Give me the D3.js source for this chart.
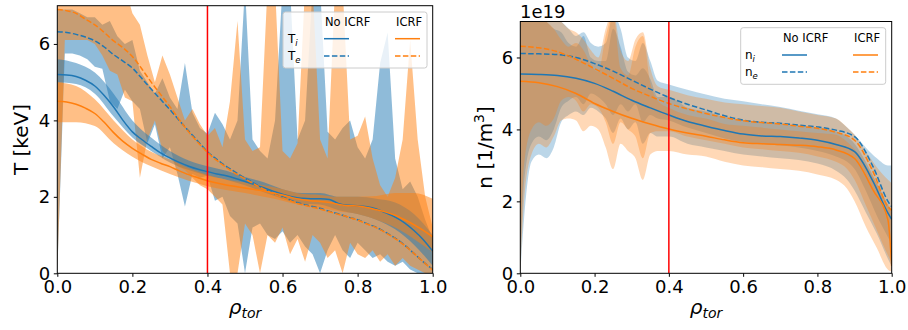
<!DOCTYPE html>
<html>
<head>
<meta charset="utf-8">
<script src="https://cdn.jsdelivr.net/npm/d3@7"></script>
<style>
body { margin: 0; background: #fff; }
svg { font-family: "DejaVu Sans", sans-serif; }
</style>
</head>
<body>
<svg id="chart" width="908" height="330"></svg>
<script>
// ---- data: temperature panel (keV) ----
const rhoLine = [0,0.025,0.05,0.075,0.1,0.125,0.15,0.175,0.2,0.225,0.25,0.275,0.3,0.325,0.35,0.375,0.4,0.425,0.45,0.475,0.5,0.525,0.55,0.575,0.6,0.625,0.65,0.675,0.7,0.725,0.75,0.775,0.8,0.825,0.85,0.875,0.9,0.925,0.95,0.975,1.0];
const tiNoIcrf = [5.20,5.19,5.15,5.05,4.90,4.65,4.35,4.00,3.70,3.50,3.32,3.15,3.02,2.90,2.80,2.72,2.66,2.60,2.55,2.48,2.40,2.32,2.24,2.15,2.07,2.00,1.96,1.95,1.95,1.93,1.82,1.78,1.77,1.74,1.68,1.58,1.47,1.32,1.12,0.88,0.58];
const tiIcrf   = [4.50,4.48,4.42,4.32,4.18,3.95,3.68,3.45,3.27,3.12,2.98,2.88,2.79,2.68,2.58,2.50,2.42,2.36,2.31,2.27,2.23,2.19,2.15,2.10,2.05,1.98,1.93,1.90,1.88,1.85,1.80,1.77,1.76,1.72,1.66,1.60,1.52,1.40,1.27,1.12,0.95];
const teNoIcrf = [6.32,6.30,6.25,6.18,6.08,5.92,5.72,5.55,5.37,5.10,4.82,4.55,4.28,4.00,3.72,3.45,3.18,2.98,2.80,2.64,2.49,2.35,2.22,2.10,2.00,1.90,1.82,1.76,1.70,1.62,1.55,1.47,1.40,1.30,1.20,1.07,0.92,0.74,0.52,0.30,0.10];
const teIcrf   = [6.90,6.87,6.80,6.65,6.50,6.30,6.08,5.90,5.67,5.35,5.00,4.68,4.36,4.02,3.70,3.42,3.16,2.95,2.77,2.61,2.47,2.33,2.20,2.08,1.98,1.88,1.80,1.74,1.68,1.61,1.54,1.47,1.39,1.29,1.19,1.06,0.91,0.73,0.52,0.30,0.08];

const rhoTiBand = [0,0.05,0.1,0.15,0.2,0.25,0.3,0.35,0.4,0.45,0.5,0.55,0.6,0.65,0.7,0.75,0.8,0.85,0.9,0.95,1.0];
const tiNoLo = [5.00,4.95,4.70,4.10,3.55,3.20,2.90,2.70,2.55,2.45,2.30,2.12,1.95,1.82,1.80,1.65,1.55,1.40,1.15,0.75,0.20];
const tiNoHi = [5.60,5.50,5.25,4.70,4.00,3.55,3.20,2.95,2.80,2.68,2.52,2.38,2.20,2.10,2.10,2.00,2.00,1.95,1.85,1.55,1.00];
const tiIcLo = [3.95,3.95,3.85,3.40,3.05,2.80,2.60,2.42,2.28,2.18,2.10,2.00,1.90,1.78,1.72,1.62,1.55,1.40,1.20,0.90,0.55];
const tiIcHi = [5.00,4.90,4.55,4.00,3.50,3.18,2.98,2.75,2.58,2.45,2.38,2.30,2.20,2.08,2.05,2.00,2.00,2.02,2.10,2.10,1.95];

const rhoTeBand = [0,0.02,0.04,0.06,0.08,0.1,0.12,0.14,0.16,0.18,0.2,0.22,0.24,0.26,0.28,0.3,0.32,0.34,0.36,0.38,0.4,0.42,0.44,0.46,0.48,0.5,0.52,0.54,0.56,0.58,0.6,0.62,0.64,0.66,0.68,0.7,0.72,0.74,0.76,0.78,0.8,0.82,0.84,0.86,0.88,0.9,0.92,0.94,0.96,0.98,1.0];
const teNoLo = [0.0,5.75,5.75,5.7,5.6,5.4,5.35,4.5,4.3,4.8,4.5,4.3,3.4,3.9,3.0,3.3,2.6,1.75,2.6,2.5,2.55,1.9,2.0,1.5,1.3,0.0,1.2,1.3,1.0,0.9,1.1,0.8,1.0,0.7,0.5,0.0,0.6,1.0,0.6,0.4,0.8,0.6,0.4,0.5,0.3,0.2,0.3,0.1,0.0,0.0,0.0];
const teNoHi = [6.9,6.9,6.9,6.8,6.7,6.7,6.5,6.6,6.2,6.0,6.1,5.3,5.0,4.7,5.1,4.6,4.3,5.5,4.2,3.8,3.65,4.2,3.9,3.5,4.0,7.5,3.5,3.2,3.0,4.0,7.5,7.5,3.5,4.0,7.5,7.5,3.7,3.5,3.8,4.0,3.3,3.0,3.5,5.5,6.3,3.0,2.2,2.4,2.0,1.4,0.9];
const teIcLo = [0.0,6.1,6.1,6.1,6.1,6.0,5.7,5.3,5.2,4.6,4.5,2.5,3.5,4.0,3.2,3.0,2.8,2.7,2.5,2.3,2.2,2.0,1.8,0.0,0.0,1.3,1.0,0.0,1.0,0.8,1.2,0.5,0.9,0.3,1.0,0.8,0.4,0.6,0.0,0.8,0.5,0.4,0.6,0.3,0.5,0.2,0.4,0.2,0.1,0.0,0.0];
const teIcHi = [7.5,7.5,7.5,7.2,7.5,7.5,7.5,7.5,7.5,7.5,6.8,6.5,5.7,5.0,5.7,5.2,4.6,4.0,4.3,3.9,3.6,3.8,3.3,4.5,6.6,3.5,3.2,3.3,7.5,7.5,3.2,3.0,3.4,7.5,7.5,3.5,3.0,7.5,7.5,3.5,3.6,4.1,3.0,2.3,2.0,2.5,3.5,6.1,3.5,2.0,1.2];

// ---- data: density panel (1e19 m^-3) ----
const rhoN = [0,0.05,0.1,0.15,0.2,0.25,0.3,0.35,0.4,0.45,0.5,0.55,0.6,0.65,0.7,0.75,0.8,0.85,0.9,0.95,0.99,1.0];
const niNoIcrf = [5.54,5.53,5.50,5.42,5.28,5.06,4.81,4.60,4.40,4.22,4.09,3.97,3.87,3.82,3.80,3.76,3.70,3.58,3.38,2.55,1.67,1.50];
const neNoIcrf = [6.11,6.10,6.08,6.00,5.83,5.62,5.37,5.12,4.89,4.70,4.54,4.38,4.26,4.20,4.17,4.12,4.07,3.98,3.80,2.96,2.00,1.85];
const niIcrf   = [5.34,5.30,5.19,5.00,4.72,4.50,4.31,4.15,4.01,3.90,3.81,3.71,3.63,3.60,3.58,3.56,3.52,3.43,3.19,2.31,1.48,0.20];
const neIcrf   = [6.31,6.27,6.16,5.95,5.69,5.42,5.14,4.92,4.72,4.57,4.44,4.33,4.24,4.19,4.15,4.09,4.03,3.92,3.70,2.82,1.85,1.75];

const rhoNBand = [0,0.01,0.03,0.05,0.07,0.09,0.11,0.13,0.15,0.17,0.19,0.21,0.23,0.25,0.27,0.29,0.31,0.33,0.35,0.37,0.4,0.45,0.5,0.55,0.6,0.65,0.7,0.75,0.8,0.85,0.88,0.9,0.93,0.96,0.99,1.0];
const niNoLo = [0.0,1.5,3.1,3.3,3.2,3.5,4.2,4.4,4.5,4.4,4.6,4.5,4.3,3.9,4.3,4.0,4.2,3.6,3.9,3.8,3.8,3.6,3.5,3.4,3.3,3.25,3.2,3.15,3.05,2.85,2.6,2.3,1.7,1.1,0.4,0.2];
const niNoHi = [7.5,7.5,7.3,7.2,7.0,6.8,6.7,6.4,6.3,6.6,6.0,5.9,5.9,6.8,6.3,5.6,5.5,5.7,5.4,4.9,4.9,4.6,4.5,4.35,4.25,4.2,4.15,4.1,4.05,3.95,3.8,3.6,3.1,2.5,1.9,1.7];
const neNoLo = [0.0,2.5,3.6,3.8,3.7,4.0,4.6,4.8,4.9,4.7,5.0,4.9,4.7,4.4,4.7,4.5,4.7,4.2,4.4,4.3,4.25,4.05,3.9,3.75,3.65,3.6,3.55,3.5,3.4,3.25,3.1,2.9,2.3,1.6,1.0,0.8];
const neNoHi = [7.5,7.5,7.5,7.5,7.3,7.2,7.0,6.8,6.6,6.7,6.4,6.3,6.4,7.2,6.8,6.0,5.9,6.4,5.9,5.35,5.25,5.1,4.97,4.85,4.78,4.7,4.62,4.52,4.42,4.3,4.05,3.85,3.5,3.2,3.0,3.0];
const niIcLo = [0.0,2.0,3.3,3.6,3.5,3.8,4.25,4.3,4.25,3.95,4.1,4.0,3.5,2.9,3.6,3.4,3.2,2.6,3.3,3.4,3.4,3.3,3.25,3.1,3.0,2.95,2.9,2.85,2.75,2.6,2.35,2.0,1.3,0.7,0.1,0.05];
const niIcHi = [7.5,7.5,7.3,7.2,7.0,6.8,6.5,6.3,6.4,6.2,5.8,5.6,6.6,7.2,5.7,5.5,6.3,6.6,5.3,4.8,4.6,4.4,4.3,4.15,4.1,4.05,4.0,3.95,3.9,3.85,3.65,3.45,3.0,2.5,1.9,1.8];
const neIcLo = [0.0,3.0,4.0,4.2,4.1,4.3,4.8,4.9,4.8,4.5,4.7,4.6,4.2,3.6,4.2,4.0,3.8,3.2,3.9,3.95,3.95,3.8,3.7,3.6,3.5,3.45,3.4,3.35,3.25,3.1,2.9,2.6,1.9,1.2,0.5,0.3];
const neIcHi = [7.5,7.5,7.5,7.5,7.4,7.2,7.0,6.8,6.7,6.5,6.2,6.0,6.8,7.3,6.2,5.9,6.5,6.7,5.7,5.2,5.1,4.95,4.85,4.75,4.7,4.65,4.6,4.5,4.4,4.3,4.05,3.85,3.4,2.95,2.6,2.5];

const xTicks = [0, 0.2, 0.4, 0.6, 0.8, 1.0];
const yTicks = [0, 2, 4, 6];
const legendCols = ["No ICRF", "ICRF"];
const markerRho = 0.4;

const BLUE = "#1f77b4", ORANGE = "#ff7f0e";
const svg = d3.select("#chart");

function zip(rho, a, b) {
    return rho.map(function (r, i) { return b ? { r: r, lo: a[i], hi: b[i] } : { r: r, v: a[i] }; });
}

function drawPanel(cfg) {
    const x = d3.scaleLinear().domain([0, 1]).range([cfg.left, cfg.right]);
    const y = d3.scaleLinear().domain([0, 7]).range([cfg.bottom, cfg.top]);

    const clipId = "clip-" + cfg.id;
    svg.append("clipPath").attr("id", clipId)
        .append("rect")
        .attr("x", cfg.left).attr("y", cfg.top)
        .attr("width", cfg.right - cfg.left).attr("height", cfg.bottom - cfg.top);

    const g = svg.append("g").attr("clip-path", "url(#" + clipId + ")");

    cfg.bands.forEach(function (b) {
        const area = d3.area()
            .x(function (d) { return x(d.r); })
            .y0(function (d) { return y(d.lo); })
            .y1(function (d) { return y(d.hi); })
            .curve(b.curve);
        g.append("path")
            .attr("d", area(b.data))
            .attr("fill", b.color)
            .attr("fill-opacity", b.alpha)
            .attr("stroke", "none");
    });

    cfg.lines.forEach(function (l) {
        const line = d3.line()
            .x(function (d) { return x(d.r); })
            .y(function (d) { return y(d.v); })
            .curve(d3.curveMonotoneX);
        g.append("path")
            .attr("d", line(l.data))
            .attr("fill", "none")
            .attr("stroke", l.color)
            .attr("stroke-width", 1.5)
            .attr("stroke-dasharray", l.dash ? "5.5,2.4" : null);
    });

    // red marker line
    g.append("line")
        .attr("x1", x(markerRho)).attr("x2", x(markerRho))
        .attr("y1", cfg.top).attr("y2", cfg.bottom)
        .attr("stroke", "red").attr("stroke-width", 1.5);

    // axes
    const xAxis = d3.axisBottom(x).tickValues(xTicks).tickFormat(d3.format(".1f"))
        .tickSize(3.5).tickPadding(3.5).tickSizeOuter(0);
    const yAxis = d3.axisLeft(y).tickValues(yTicks).tickFormat(d3.format("d"))
        .tickSize(3.5).tickPadding(3.5).tickSizeOuter(0);

    const gx = svg.append("g").attr("transform", "translate(0," + cfg.bottom + ")").call(xAxis);
    const gy = svg.append("g").attr("transform", "translate(" + cfg.left + ",0)").call(yAxis);
    [gx, gy].forEach(function (a) {
        a.select(".domain").remove();
        a.selectAll("text").attr("font-size", 18).attr("font-family", "DejaVu Sans").attr("fill", "#000");
        a.selectAll("line").attr("stroke", "#000").attr("stroke-width", 1);
    });

    svg.append("rect")
        .attr("x", cfg.left).attr("y", cfg.top)
        .attr("width", cfg.right - cfg.left).attr("height", cfg.bottom - cfg.top)
        .attr("fill", "none").attr("stroke", "#000").attr("stroke-width", 1);

    // x label
    const xl = svg.append("text")
        .attr("x", (cfg.left + cfg.right) / 2).attr("y", 314)
        .attr("text-anchor", "middle").attr("font-size", 20);
    xl.append("tspan").attr("font-style", "italic").text("ρ");
    xl.append("tspan").attr("font-style", "italic").attr("font-size", 14).attr("dy", 4).text("tor");

    // y label
    const yl = svg.append("text")
        .attr("transform", "translate(" + cfg.ylabelX + "," + ((cfg.top + cfg.bottom) / 2) + ") rotate(-90)")
        .attr("text-anchor", "middle").attr("font-size", 20);
    cfg.ylabel(yl);

    // legend
    const L = cfg.legend;
    svg.append("rect")
        .attr("x", L.x).attr("y", L.y).attr("width", L.w).attr("height", L.h)
        .attr("rx", 2.5)
        .attr("fill", "#fff").attr("fill-opacity", 0.8)
        .attr("stroke", "#cccccc").attr("stroke-width", 1);
    svg.append("text").attr("x", L.col1).attr("y", L.headY).attr("font-size", 11.5).text(legendCols[0]);
    svg.append("text").attr("x", L.col2).attr("y", L.headY).attr("font-size", 11.5).text(legendCols[1]);
    L.rows.forEach(function (row, i) {
        const ly = L.rowY[i];
        const t = svg.append("text").attr("x", L.labelX).attr("y", ly + 4.2).attr("font-size", 12);
        t.append("tspan").text(row.sym);
        t.append("tspan").attr("font-size", 8.5).attr("font-style", "italic").attr("dy", 3).text(row.sub);
        [[L.col1 - 1, BLUE], [L.col2 - 1, ORANGE]].forEach(function (h) {
            svg.append("line")
                .attr("x1", h[0]).attr("x2", h[0] + 25)
                .attr("y1", ly).attr("y2", ly)
                .attr("stroke", h[1]).attr("stroke-width", 1.5)
                .attr("stroke-dasharray", row.dash ? "5.5,2.4" : null);
        });
    });
}

drawPanel({
    id: "T", left: 57.3, right: 432.7, top: 5.7, bottom: 273.3, ylabelX: 28,
    ylabel: function (t) { t.text("T [keV]"); },
    bands: [
        { data: zip(rhoTeBand, teNoLo, teNoHi), color: BLUE, alpha: 0.5, curve: d3.curveLinear },
        { data: zip(rhoTeBand, teIcLo, teIcHi), color: ORANGE, alpha: 0.5, curve: d3.curveLinear },
        { data: zip(rhoTiBand, tiNoLo, tiNoHi), color: BLUE, alpha: 0.5, curve: d3.curveMonotoneX },
        { data: zip(rhoTiBand, tiIcLo, tiIcHi), color: ORANGE, alpha: 0.5, curve: d3.curveMonotoneX }
    ],
    lines: [
        { data: zip(rhoLine, tiNoIcrf), color: BLUE },
        { data: zip(rhoLine, teNoIcrf), color: BLUE, dash: true },
        { data: zip(rhoLine, tiIcrf), color: ORANGE },
        { data: zip(rhoLine, teIcrf), color: ORANGE, dash: true }
    ],
    legend: {
        x: 283, y: 12, w: 144, h: 56, col1: 325, col2: 396, headY: 26, labelX: 288,
        rowY: [38.7, 56],
        rows: [{ sym: "T", sub: "i" }, { sym: "T", sub: "e", dash: true }]
    }
});

drawPanel({
    id: "n", left: 520.3, right: 891.7, top: 21.5, bottom: 273.3, ylabelX: 492,
    ylabel: function (t) {
        t.append("tspan").text("n [1/m");
        t.append("tspan").attr("font-size", 14).attr("dy", -8).text("3");
        t.append("tspan").attr("dy", 8).text("]");
    },
    bands: [
        { data: zip(rhoNBand, neNoLo, neNoHi), color: BLUE, alpha: 0.3, curve: d3.curveMonotoneX },
        { data: zip(rhoNBand, niNoLo, niNoHi), color: BLUE, alpha: 0.3, curve: d3.curveMonotoneX },
        { data: zip(rhoNBand, neIcLo, neIcHi), color: ORANGE, alpha: 0.3, curve: d3.curveMonotoneX },
        { data: zip(rhoNBand, niIcLo, niIcHi), color: ORANGE, alpha: 0.3, curve: d3.curveMonotoneX }
    ],
    lines: [
        { data: zip(rhoN, niNoIcrf), color: BLUE },
        { data: zip(rhoN, neNoIcrf), color: BLUE, dash: true },
        { data: zip(rhoN, niIcrf), color: ORANGE },
        { data: zip(rhoN, neIcrf), color: ORANGE, dash: true }
    ],
    legend: {
        x: 740.7, y: 27.7, w: 145, h: 56.6, col1: 783, col2: 854, headY: 42, labelX: 745,
        rowY: [55, 72],
        rows: [{ sym: "n", sub: "i" }, { sym: "n", sub: "e", dash: true }]
    }
});

svg.append("text").attr("x", 520).attr("y", 18).attr("font-size", 18).text("1e19");
</script>
</body>
</html>
